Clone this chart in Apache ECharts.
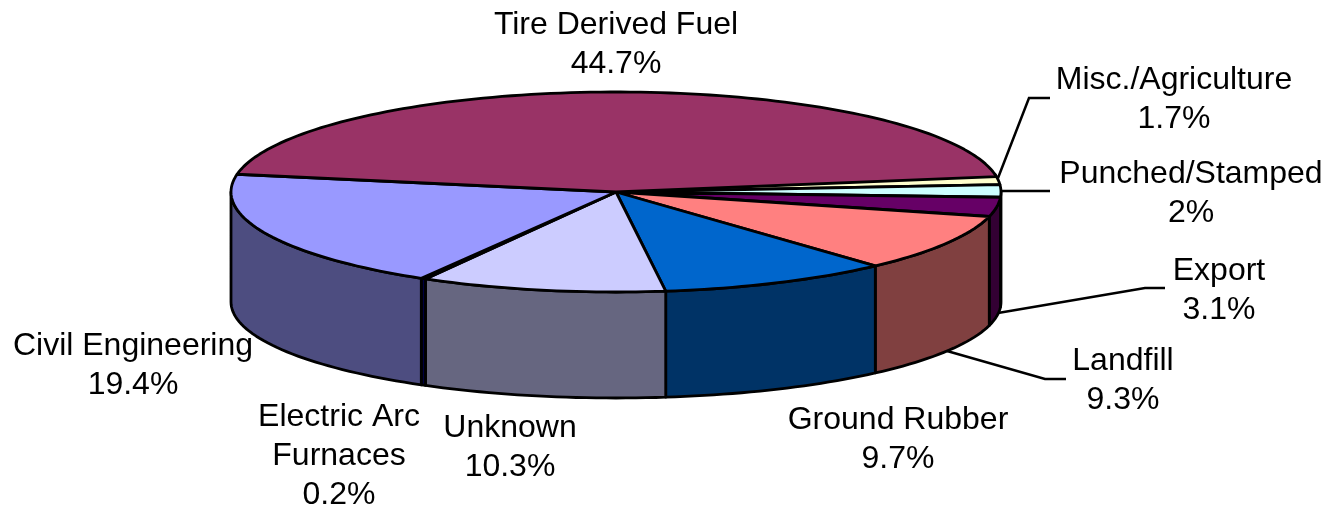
<!DOCTYPE html>
<html>
<head>
<meta charset="utf-8" />
<title>Tire markets</title>
<script src="https://cdn.jsdelivr.net/npm/echarts@6/dist/echarts.min.js"></script>
<style>
html, body { margin: 0; padding: 0; background: #fff; }
#chart { width: 1340px; height: 505px; }
</style>
</head>
<body>
<div id="chart"></div>
<script>
// clockwise from the tire slice's right edge
var categories = ['Misc./Agriculture', 'Punched/Stamped', 'Export', 'Landfill', 'Ground Rubber', 'Unknown', 'Electric Arc\nFurnaces', 'Civil Engineering', 'Tire Derived Fuel'];
var shares = [1.7, 2, 3.1, 9.3, 9.7, 10.3, 0.2, 19.4, 44.7];
var topColors = ['#FFFFCC', '#CCFFFF', '#660066', '#FF8080', '#0066CC', '#CCCCFF', '#000080', '#9999FF', '#993366'];
var sideColors = ['#808066', '#668080', '#330033', '#804040', '#003366', '#666680', '#000040', '#4D4D80', '#4D1A33'];

// label centres and leader lines, same order as categories
var labelPos = [[1174, 100], [1191, 194], [1219, 291], [1123, 381], [898, 440], [510, 448], [339, 456], [133, 366], [616, 45]];
var leaders = [
  [[998, 178], [1029, 98], [1050, 98]],
  [[1001, 191], [1050, 191]],
  [[998, 313], [1145, 288], [1165, 288]],
  [[947, 351], [1045, 379], [1066, 379]]
];

var cx = 616, cy = 192, rx = 385, ry = 100;
var depth = 110, bottomRy = 96;
var startAngle = -10.3;

var angles = [];
var sum = 0;
shares.forEach(function (v) {
  angles.push([startAngle + sum * 3.6, startAngle + (sum + v) * 3.6]);
  sum += v;
});

function topPt(deg) {
  var a = deg * Math.PI / 180;
  return [cx + rx * Math.cos(a), cy + ry * Math.sin(a)];
}
function bottomPt(deg) {
  var a = deg * Math.PI / 180;
  return [cx + rx * Math.cos(a), cy + depth + bottomRy * Math.sin(a)];
}
function arc(fn, from, to) {
  var n = Math.max(2, Math.ceil(Math.abs(to - from) / 1.5));
  var pts = [];
  for (var i = 0; i <= n; i++) pts.push(fn(from + (to - from) * i / n));
  return pts;
}

function renderSide(params) {
  var i = params.dataIndex;
  // only the front half of the rim shows
  var from = Math.max(angles[i][0], 0);
  var to = Math.min(angles[i][1], 180);
  if (to <= from) return null;
  var pts = arc(topPt, from, to).concat(arc(bottomPt, to, from));
  return {
    type: 'polygon',
    shape: { points: pts },
    style: { fill: sideColors[i], stroke: '#000', lineWidth: 2.8, lineJoin: 'round' }
  };
}

function renderTop(params) {
  var i = params.dataIndex;
  var pts = [[cx, cy]].concat(arc(topPt, angles[i][0], angles[i][1]));
  return {
    type: 'polygon',
    shape: { points: pts },
    style: { fill: topColors[i], stroke: '#000', lineWidth: 2.8, lineJoin: 'round' }
  };
}

var graphics = [];
leaders.forEach(function (pts) {
  graphics.push({
    type: 'polyline',
    shape: { points: pts },
    style: { fill: null, stroke: '#000', lineWidth: 2.5 },
    z: 5
  });
});
categories.forEach(function (name, i) {
  graphics.push({
    type: 'text',
    x: labelPos[i][0],
    y: labelPos[i][1],
    style: {
      text: name + '\n' + shares[i] + '%',
      font: '32px "Liberation Sans", Arial, sans-serif',
      fill: '#000',
      align: 'center',
      verticalAlign: 'middle',
      lineHeight: 39
    },
    z: 6
  });
});

var myChart = echarts.init(document.getElementById('chart'));
myChart.setOption({
  animation: false,
  backgroundColor: '#fff',
  graphic: graphics,
  series: [
    { type: 'custom', name: 'side', coordinateSystem: 'none', renderItem: renderSide, data: shares, z: 1 },
    { type: 'custom', name: 'top', coordinateSystem: 'none', renderItem: renderTop, data: shares, z: 2 }
  ]
});
</script>
</body>
</html>
